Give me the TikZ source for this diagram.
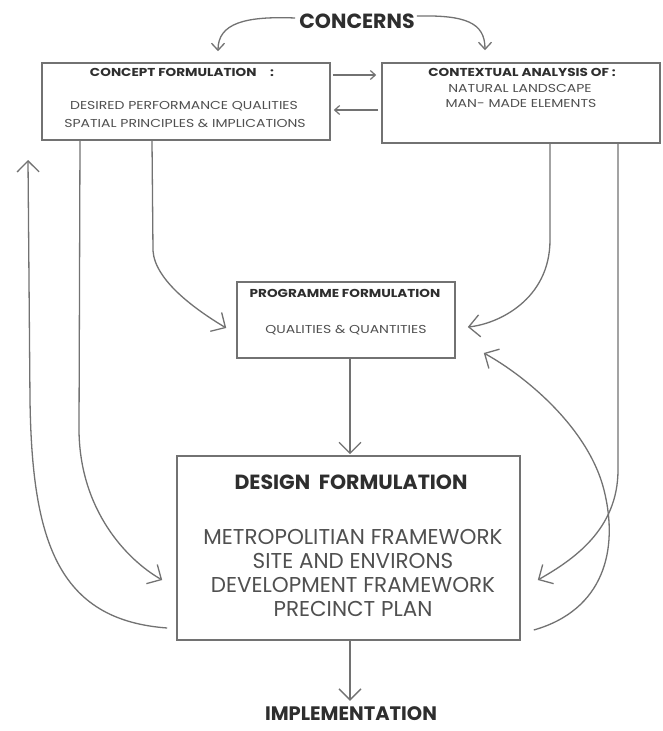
\documentclass[tikz,border=0pt]{standalone}
\usepackage{fontspec}
\usepackage{graphicx}
\setmainfont{Poppins}
\usetikzlibrary{arrows.meta,calc}
\definecolor{linegray}{HTML}{727272}
\definecolor{txtdark}{HTML}{2E2E2E}
\definecolor{txtgray}{HTML}{505050}
\newcommand\widebody[1]{\scalebox{1.22}[1]{#1}}
\newcommand\widetitle[1]{\scalebox{1.18}[1]{#1}}
\begin{document}
\begin{tikzpicture}[x=1pt,y=-1pt,
  box/.style={draw=linegray, line width=1.6pt, inner sep=0pt},
  conn/.style={draw=linegray, line width=1.3pt},
  bigarr/.style={conn, -{Straight Barb[length=11pt,width=22pt,line width=1.3pt]}},
  midarr/.style={conn, -{Straight Barb[length=7pt,width=13pt,line width=1.3pt]}},
  smallarr/.style={conn, -{Straight Barb[length=5pt,width=9pt,line width=1.2pt]}},
  smalltitle/.style={font=\fontsize{11.5}{12}\selectfont\bfseries, text=txtdark, inner sep=0pt},
  smalltxt/.style={font=\fontsize{11.5}{12}\selectfont, text=txtgray, inner sep=0pt},
  bigtitle/.style={font=\fontsize{20.5}{22}\selectfont\bfseries, text=txtdark, inner sep=0pt},
  bigtxt/.style={font=\fontsize{21.5}{23}\selectfont, text=txtgray, inner sep=0pt},
]
\useasboundingbox (0,0) rectangle (662,731);
\fill[white] (0,0) rectangle (662,731);

% boxes
\node[box, minimum width=288pt, minimum height=77pt] (concept) at (186,101.5) {};
\node[box, minimum width=278pt, minimum height=80pt] (context) at (521,103) {};
\node[box, minimum width=218pt, minimum height=76pt] (prog) at (346,320) {};
\node[box, minimum width=343pt, minimum height=184pt] (design) at (348.5,548) {};

% texts
\node[bigtitle] (concerns) at (357,21) {CONCERNS};
\node[smalltitle] (t1) at (182,72) {\widetitle{CONCEPT FORMULATION\quad :}};
\node[smalltxt] (t2) at (184,106) {\widebody{DESIRED PERFORMANCE QUALITIES}};
\node[smalltxt] (t3) at (185,123) {\widebody{SPATIAL PRINCIPLES \& IMPLICATIONS}};
\node[smalltitle] (c1) at (522,72) {\widetitle{CONTEXTUAL ANALYSIS OF :}};
\node[smalltxt] (c2) at (520,88) {\widebody{NATURAL LANDSCAPE}};
\node[smalltxt] (c3) at (521,103) {\widebody{MAN- MADE ELEMENTS}};
\node[smalltitle] (p1) at (345,293) {\widetitle{PROGRAMME FORMULATION}};
\node[smalltxt] (p2) at (346,330) {\widebody{QUALITIES \& QUANTITIES}};
\node[bigtitle] (d1) at (351,482) {DESIGN\ \ FORMULATION};
\node[bigtxt] (d2) at (353,537) {METROPOLITIAN FRAMEWORK};
\node[bigtxt] (d3) at (353,561) {SITE AND ENVIRONS};
\node[bigtxt] (d4) at (353,585) {DEVELOPMENT FRAMEWORK};
\node[bigtxt] (d5) at (353,609) {PRECINCT PLAN};
\node[bigtitle, font=\fontsize{19.5}{21}\selectfont\bfseries] (impl) at (351,714) {IMPLEMENTATION};

% concerns arrows
\draw[midarr] ($(concerns.west)+(-4,-3)$) .. controls +(-50,-2) and +(0,-28) .. ($(concept.north)+(32,-11)$);
\draw[midarr] ($(concerns.east)+(2,-5)$) .. controls +(48,-1) and +(0,-28) .. ($(context.north)+(-36,-12)$);

% arrows between top boxes
\draw[smallarr] ($(concept.east)+(2,-26.5)$) -- ($(context.west)+(-5,-28)$);
\draw[smallarr] ($(context.west)+(-3,7)$) -- ($(concept.east)+(3,8.5)$);

% concept to programme / design
\draw[bigarr] ($(concept.south)+(-34,0)$) -- ++(1,110) .. controls +(2,30) and +(-30,-18) .. ($(prog.west)+(-10,8)$);
\draw[bigarr] ($(concept.south)+(-106,0)$) -- ++(-1,290) .. controls +(1,80) and +(-35,-20) .. ($(design.west)+(-14,32)$);

% context to programme / design
\draw[bigarr] ($(context.south)+(29,0)$) -- ++(0,96) .. controls +(0,60) and +(30,-3) .. ($(prog.east)+(12,7)$);
\draw[bigarr] ($(context.south)+(97,0)$) -- ++(0,326) .. controls +(0,60) and +(35,-20) .. ($(design.east)+(17,32)$);

% feedback loops
\draw[bigarr] ($(design.west)+(-9,80)$) .. controls +(-110,-8) and +(2,140) .. (30,400) -- (28,160);
\coordinate (fbmid) at (604,490);
\draw[bigarr] ($(design.east)+(13,82)$) .. controls +(70,-20) and +(15,60) .. (fbmid) .. controls +(-15,-60) and +(45,25) .. ($(prog.east)+(28,33)$);

% vertical arrows
\draw[bigarr] ($(prog.south)+(4,0)$) -- ($(design.north)+(1.5,-1)$);
\draw[bigarr] ($(design.south)+(1.5,0)$) -- ($(impl.north)+(-1,-6)$);
\end{tikzpicture}
\end{document}
